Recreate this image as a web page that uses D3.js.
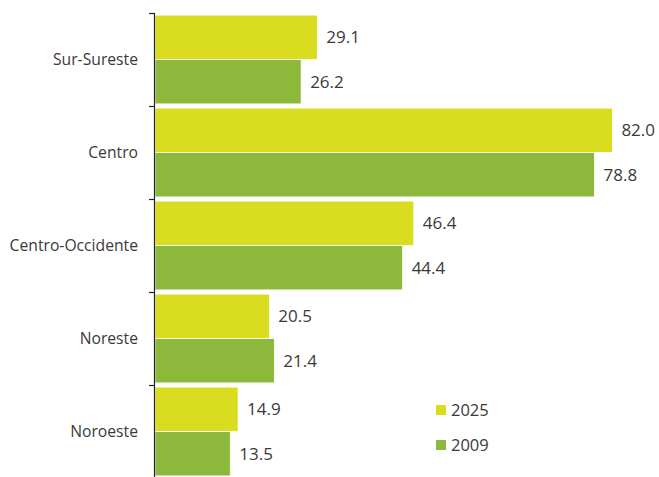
<!DOCTYPE html>
<html><head><meta charset="utf-8">
<script src="https://cdn.jsdelivr.net/npm/d3@7/dist/d3.min.js"></script>
<style>body{margin:0;background:#fff}svg{display:block}text{font-family:"Open Sans","Liberation Sans",sans-serif;fill:#3a3a3a}</style>
</head><body><svg id="c" width="659" height="477"></svg>
<script>
const categories = ["Sur-Sureste","Centro","Centro-Occidente","Noreste","Noroeste"];
const seriesNames = ["2025","2009"];
const values2025 = [29.1, 82.0, 46.4, 20.5, 14.9];
const values2009 = [26.2, 78.8, 44.4, 21.4, 13.5];
const colors = ["#d9dc1f","#8cb93b"];

const svg = d3.select("#c");
const x = d3.scaleLinear().domain([0,90]).range([155,657]);
const y = d3.scaleBand().domain(categories).range([13,478]).paddingInner(0.045).paddingOuter(0.0225);
const ys = d3.scaleBand().domain(seriesNames).range([0,y.bandwidth()]);
const data = [values2025, values2009];

categories.forEach((c,i)=>{
  seriesNames.forEach((s,j)=>{
    const v = data[j][i];
    svg.append("rect").attr("x",x(0)).attr("y",y(c)+ys(s)).attr("width",x(v)-x(0)).attr("height",ys.bandwidth())
      .attr("fill",colors[j]).attr("stroke","#fff").attr("stroke-width",0.8);
    svg.append("text").attr("x",x(v)+9).attr("y",y(c)+ys(s)+ys.bandwidth()/2).attr("dy","0.35em")
      .attr("font-size",17).text(v.toFixed(1));
  });
  svg.append("text").attr("x",138).attr("y",y(c)+y.bandwidth()/2).attr("dy","0.35em")
    .attr("text-anchor","end").attr("font-size",15.7).text(c);
});

// axis line and ticks at band boundaries
const step = y.step();
const b0 = y(categories[0]) - y.paddingOuter()*step;
svg.append("line").attr("x1",154.5).attr("x2",154.5).attr("y1",b0).attr("y2",477).attr("stroke","#222").attr("stroke-width",1.2);
d3.range(categories.length).forEach(i=>{
  const ty = Math.round(b0 + i*step)+0.5;
  svg.append("line").attr("x1",149).attr("x2",155).attr("y1",ty).attr("y2",ty).attr("stroke","#222").attr("stroke-width",1.2);
});

// legend
seriesNames.forEach((s,j)=>{
  const ly = 410 + j*35;
  svg.append("rect").attr("x",436).attr("y",ly-5).attr("width",10).attr("height",10).attr("fill",colors[j]);
  svg.append("text").attr("x",451).attr("y",ly).attr("dy","0.35em").attr("font-size",16.5).text(s);
});
</script></body></html>
